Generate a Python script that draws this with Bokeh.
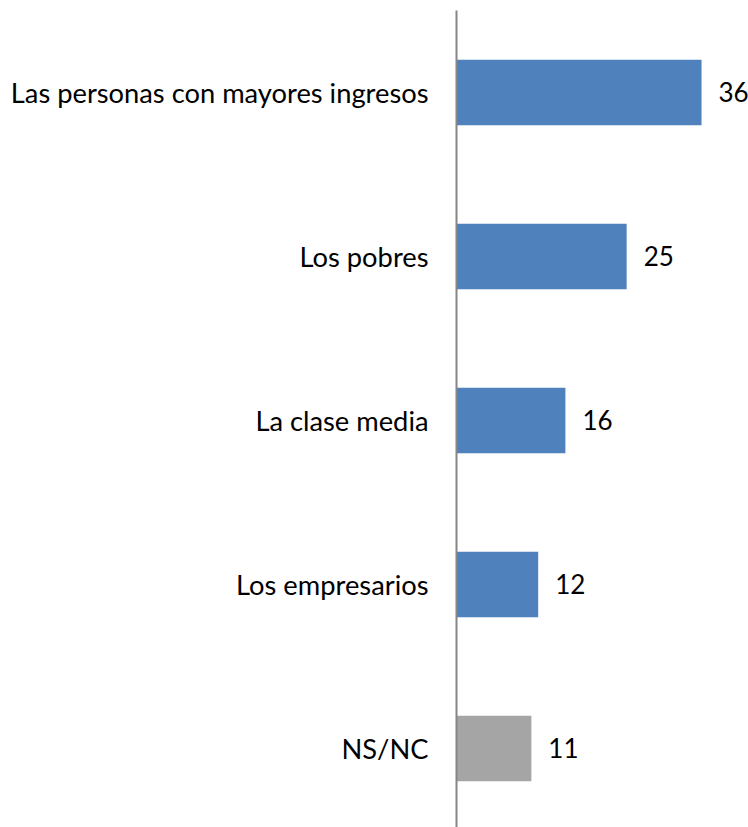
from bokeh.plotting import figure
from bokeh.models import Range1d, FixedTicker, ColumnDataSource, LabelSet
from bokeh.core.properties import value
from bokeh.embed import file_html
from bokeh.resources import INLINE

categories = ["Las personas con mayores ingresos", "Los pobres", "La clase media",
              "Los empresarios", "NS/NC"]
values = [36, 25, 16, 12, 11]
colors = ["#4F81BD", "#4F81BD", "#4F81BD", "#4F81BD", "#A5A5A5"]

FONT = "Lato"
n = len(categories)
ys = [n - i for i in range(n)]  # top category first

src = ColumnDataSource(dict(y=ys, v=values, c=colors, t=[str(v) for v in values]))

p = figure(width=748, height=827, output_backend="svg", toolbar_location=None,
           x_range=Range1d(0, 42.9), y_range=Range1d(0.518, 5.5),
           min_border_left=456, min_border_right=0, min_border_top=10, min_border_bottom=0)

p.hbar(y="y", right="v", left=0, height=0.4, fill_color="c", line_color=None, source=src)

labels = LabelSet(x="v", y="y", text="t", source=src, x_offset=17,
                  text_baseline="middle", text_align="left",
                  text_font=value(FONT), text_font_size="26px", text_color="#000000")
p.add_layout(labels)

p.xaxis.visible = False
p.grid.visible = False
p.outline_line_color = None

ya = p.yaxis[0]
ya.ticker = FixedTicker(ticks=ys)
ya.major_label_overrides = {y: c for y, c in zip(ys, categories)}
ya.major_tick_line_color = None
ya.minor_tick_line_color = None
ya.axis_line_color = "#868686"
ya.axis_line_width = 2
ya.major_label_standoff = 22
ya.major_label_text_font = FONT
ya.major_label_text_font_size = "27.3px"
ya.major_label_text_color = "#000000"

open("out.html", "w").write(file_html(p, INLINE))
